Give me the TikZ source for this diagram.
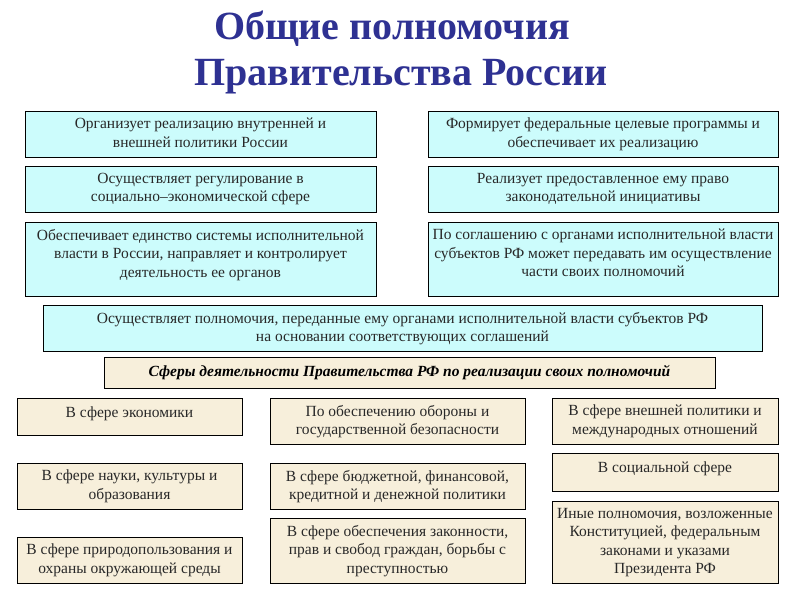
\documentclass[tikz,border=0pt]{standalone}
\usepackage{fontspec}
\setmainfont{Liberation Serif}
\definecolor{titleblue}{RGB}{46,49,146}
\definecolor{cyanfill}{RGB}{204,252,252}
\definecolor{beigefill}{RGB}{247,239,219}
\definecolor{txtcol}{RGB}{40,40,40}
\tikzset{
  boxbase/.style={draw=black, line width=0.8pt, inner sep=0pt, outer sep=0pt, anchor=north west},
  cbox/.style={boxbase, fill=cyanfill},
  bbox/.style={boxbase, fill=beigefill},
  txt/.style={anchor=north, inner sep=0pt, align=center, text=txtcol,
    font=\fontsize{15.5}{18.5}\selectfont, execute at begin node=\strut},
  ttl/.style={anchor=base, inner sep=0pt, text=titleblue, font=\fontsize{40}{46}\selectfont\bfseries},
  hdr/.style={text=black, font=\fontsize{15.5}{18}\selectfont\bfseries\itshape}
}
\newcommand\mybox[7]{%
  \node[#6, minimum width={#4pt-#2pt}, minimum height={#5pt-#3pt}] (#1) at (#2,#3) {};
  \node[txt] (#1t) at ([yshift=-6.8pt]#1.north) {#7};
}
\begin{document}
\begin{tikzpicture}[x=1pt,y=-1pt]
\useasboundingbox (0,0) rectangle (800,600);
\node[ttl] (title1) at (392,39.5) {Общие полномочия};
\node[ttl] (title2) at (401,85) {Правительства России};

\mybox{c1}{25}{111}{376}{157}{cbox}{Организует реализацию внутренней и\\внешней политики России}
\mybox{c2}{25}{166}{376}{212}{cbox}{Осуществляет регулирование в\\социально–экономической сфере}
\mybox{c3}{25}{222}{376}{296}{cbox}{Обеспечивает единство системы исполнительной\\власти в России, направляет и контролирует\\деятельность ее органов}
\mybox{d1}{428}{111}{778}{157}{cbox}{Формирует федеральные целевые программы и\\обеспечивает их реализацию}
\mybox{d2}{428}{166}{778}{212}{cbox}{Реализует предоставленное ему право\\законодательной инициативы}
\mybox{d3}{428}{222}{778}{296}{cbox}{По соглашению с органами исполнительной власти\\субъектов РФ может передавать им осуществление\\части своих полномочий}
\mybox{w}{43}{305}{762}{351}{cbox}{Осуществляет полномочия, переданные ему органами исполнительной власти субъектов РФ\\на основании соответствующих соглашений}

\node[bbox, minimum width=611pt, minimum height=31pt] (h) at (104,357) {};
\node[hdr] (ht) at (h.center) {Сферы деятельности Правительства РФ по реализации своих полномочий};

\mybox{b11}{17}{398}{242}{435}{bbox}{В сфере экономики}
\mybox{b12}{270}{398}{525}{444}{bbox}{По обеспечению обороны и\\государственной безопасности}
\mybox{b13}{552}{398}{778}{444}{bbox}{В сфере внешней политики и\\международных отношений}
\mybox{b21}{17}{463}{242}{509}{bbox}{В сфере науки, культуры и\\образования}
\mybox{b22}{270}{463}{525}{509}{bbox}{В сфере бюджетной, финансовой,\\кредитной и денежной политики}
\mybox{b23}{552}{453}{778}{491}{bbox}{В социальной сфере}
\mybox{b31}{17}{537}{242}{583}{bbox}{В сфере природопользования и\\охраны окружающей среды}
\mybox{b32}{270}{518}{525}{583}{bbox}{В сфере обеспечения законности,\\прав и свобод граждан, борьбы с\\преступностью}
\mybox{b33}{552}{501}{778}{583}{bbox}{Иные полномочия, возложенные\\Конституцией, федеральным\\законами и указами\\Президента РФ}
\end{tikzpicture}
\end{document}
